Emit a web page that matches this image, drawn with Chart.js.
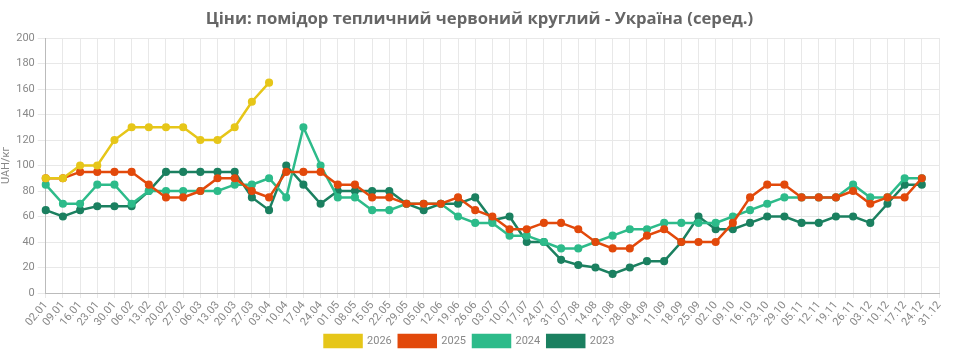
<!DOCTYPE html>
<html>
<head>
<meta charset="utf-8">
<script src="https://cdn.jsdelivr.net/npm/chart.js@4"></script>
<style>
  body { margin: 0; background: #fff; }
  #wrap { width: 959px; height: 363px; }
</style>
</head>
<body>
<div id="wrap"><canvas id="chart" width="959" height="363"></canvas></div>
<script>
const labels = ['02.01','09.01','16.01','23.01','30.01','06.02','13.02','20.02','27.02','06.03','13.03','20.03','27.03','03.04','10.04','17.04','24.04','01.05','08.05','15.05','22.05','29.05','05.06','12.06','19.06','26.06','03.07','10.07','17.07','24.07','31.07','07.08','14.08','21.08','28.08','04.09','11.09','18.09','25.09','02.10','09.10','16.10','23.10','29.10','05.11','12.11','19.11','26.11','03.12','10.12','17.12','24.12','31.12'];

const y2026 = [90,90,100,100,120,130,130,130,130,120,120,130,150,165];
const y2025 = [90,90,95,95,95,95,85,75,75,80,90,90,80,75,95,95,95,85,85,75,75,70,70,70,75,65,60,50,50,55,55,50,40,35,35,45,50,40,40,40,55,75,85,85,75,75,75,80,70,75,75,90,null];
const y2024 = [85,70,70,85,85,70,80,80,80,80,80,85,85,90,75,130,100,75,75,65,65,70,70,70,60,55,55,45,45,40,35,35,40,45,50,50,55,55,55,55,60,65,70,75,75,75,75,85,75,75,90,90,null];
const y2023 = [65,60,65,68,68,68,80,95,95,95,95,95,75,65,100,85,70,80,80,80,80,70,65,70,70,75,57,60,40,40,26,22,20,15,20,25,25,40,60,50,50,55,60,60,55,55,60,60,55,70,85,85,null];

function series(label, data, color) {
  return {
    label: label,
    data: data,
    borderColor: color,
    backgroundColor: color,
    borderWidth: 2.5,
    pointRadius: 2.8,
    pointHoverRadius: 4,
    tension: 0
  };
}

// title is centred on the whole canvas, legend on the padded area
const centerTitle = {
  id: 'centerTitle',
  afterLayout(chart) {
    const t = chart.titleBlock;
    if (!t) return;
    t.left = 0;
    t.right = chart.width;
    t.width = chart.width;
  }
};

new Chart(document.getElementById('chart'), {
  type: 'line',
  data: {
    labels: labels,
    datasets: [
      series('2026', y2026, '#e6c619'),
      series('2025', y2025, '#e2490b'),
      series('2024', y2024, '#2dbb8a'),
      series('2023', y2023, '#1b8060')
    ]
  },
  plugins: [centerTitle],
  options: {
    responsive: false,
    animation: false,
    layout: { padding: { left: 0, right: 20, top: 0, bottom: 6 } },
    plugins: {
      title: {
        display: true,
        text: 'Ціни: помідор тепличний червоний круглий - Україна (серед.)',
        color: '#666',
        font: { family: 'Open Sans', size: 16.7, weight: 'bold' },
        padding: { top: 9, bottom: 9 }
      },
      legend: {
        position: 'bottom',
        labels: {
          color: '#888',
          font: { family: 'Roboto', size: 11 },
          boxWidth: 37,
          boxHeight: 12,
          padding: 7
        }
      }
    },
    scales: {
      x: {
        offset: false,
        grid: { color: '#e8e8e8', tickLength: 5 },
        border: { color: '#bbb' },
        ticks: {
          color: '#888',
          font: { family: 'Roboto', size: 11 },
          minRotation: 50,
          maxRotation: 50,
          autoSkip: false,
          padding: 1
        },
        afterFit(scale) {
          scale.height = 35;
        }
      },
      y: {
        min: 0,
        max: 200,
        grid: { color: '#e8e8e8' },
        border: { color: '#bbb' },
        ticks: {
          stepSize: 20,
          color: '#888',
          font: { family: 'Roboto', size: 11 }
        },
        title: {
          display: true,
          text: 'UAH/кг',
          color: '#888',
          font: { family: 'Roboto', size: 11 },
          padding: 0
        }
      }
    }
  }
});
</script>
</body>
</html>
